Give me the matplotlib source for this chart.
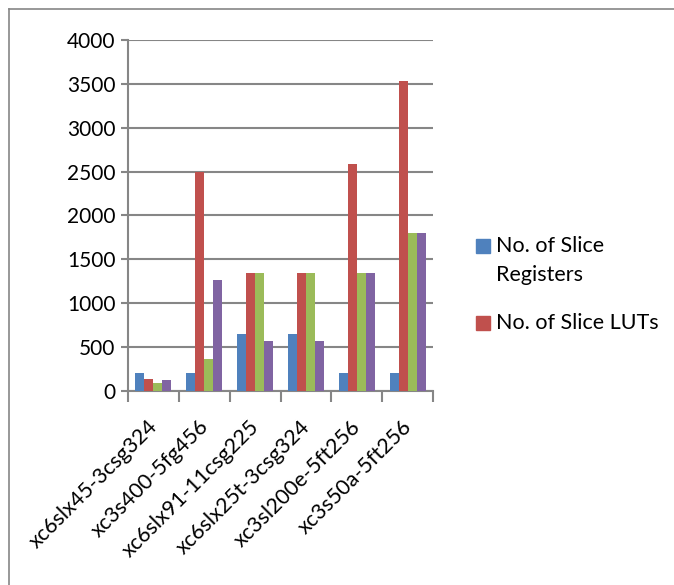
import numpy as np
import matplotlib.pyplot as plt
import matplotlib.transforms as mtransforms
from matplotlib.lines import Line2D
from matplotlib.patches import Rectangle

plt.rcParams['font.family'] = ['Lato', 'DejaVu Sans']

# Data
devices = ["xc6slx45-3csg324", "xc3s400-5fg456", "xc6slx91-11csg225",
           "xc6slx25t-3csg324", "xc3sl200e-5ft256", "xc3s50a-5ft256"]
slice_registers = [200, 200, 650, 650, 200, 200]
slice_luts = [140, 2500, 1350, 1350, 2590, 3530]
series_3 = [90, 360, 1350, 1350, 1350, 1800]
series_4 = [125, 1270, 570, 570, 1350, 1800]

series = [slice_registers, slice_luts, series_3, series_4]
labels = ["No. of Slice\nRegisters", "No. of Slice LUTs"]
colors = ["#4F81BD", "#C0504D", "#9BBB59", "#8064A2"]

W, H = 674, 585
fig = plt.figure(figsize=(W / 100, H / 100), dpi=100)
ax = fig.add_axes([128 / W, 1 - 391 / H, 305 / W, 351 / H])

x = np.arange(len(devices))
w = 0.177
for i, (vals, c) in enumerate(zip(series, colors)):
    ax.bar(x + (i - 1.5) * w, vals, w, color=c, zorder=3)

ax.set_xlim(-0.5, len(devices) - 0.5)
ax.set_ylim(0, 4000)
ax.set_yticks(range(0, 4001, 500))
ax.grid(axis='y', color='#868686', linewidth=1.5, zorder=0)

for s in ['top', 'right']:
    ax.spines[s].set_visible(False)
for s in ['left', 'bottom']:
    ax.spines[s].set_color('#868686')
    ax.spines[s].set_linewidth(1.5)

ax.set_xticks(x)
ax.set_xticklabels(devices, rotation=45, ha='right', rotation_mode='anchor', fontsize=15.5)
ax.tick_params(axis='x', length=0, pad=6)
shift = mtransforms.ScaledTranslation(-6 / 100, -17 / 100, fig.dpi_scale_trans)
for lbl in ax.get_xticklabels():
    lbl.set_transform(lbl.get_transform() + shift)
ax.set_xticks(np.arange(-0.5, len(devices)), minor=True)
ax.tick_params(axis='x', which='minor', length=8, width=1.5, color='#868686')
ax.tick_params(axis='y', length=5, width=1.5, color='#868686', labelsize=15, pad=4)

# legend (only the first two entries are visible in the chart)
sq_y = [246, 323]
txt_y = [260.5, 323]
for lab, c, sy, ty in zip(labels, colors, sq_y, txt_y):
    fig.add_artist(Rectangle((476 / W, 1 - (sy + 7) / H), 14 / W, 14 / H,
                             transform=fig.transFigure, color=c))
    fig.text(496 / W, 1 - ty / H, lab, fontsize=15.5, va='center', ha='left',
             linespacing=1.55)

# outer chart frame (cropped on right and bottom)
fig.add_artist(Line2D([9 / W, 9 / W], [0, 1 - 9 / H], transform=fig.transFigure,
                      color='#868686', linewidth=1.2))
fig.add_artist(Line2D([9 / W, 1], [1 - 9 / H, 1 - 9 / H], transform=fig.transFigure,
                      color='#868686', linewidth=1.2))

fig.savefig("out.png", dpi=100)
